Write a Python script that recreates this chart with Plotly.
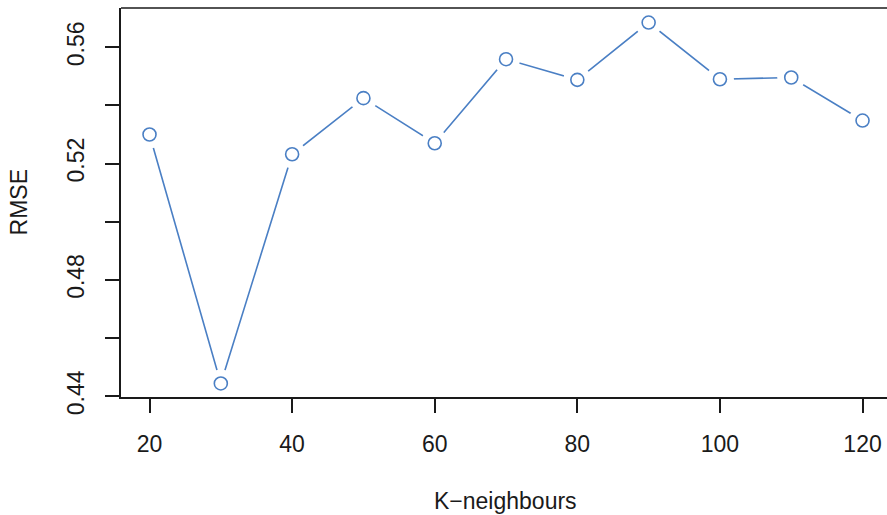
import plotly.graph_objects as go

k_neighbours = [20, 30, 40, 50, 60, 70, 80, 90, 100, 110, 120]
rmse = [0.5300, 0.4444, 0.5232, 0.5425, 0.5270, 0.5559, 0.5488, 0.5685, 0.5490, 0.5496, 0.5348]

y_tickvals = [0.44, 0.46, 0.48, 0.50, 0.52, 0.54, 0.56]
y_ticktext = ["0.44", "", "0.48", "", "0.52", "", "0.56"]
x_tickvals = [20, 40, 60, 80, 100, 120]

BLUE = "#4a7fc4"
INK = "#1a1a1a"
FONT = "Liberation Sans, Arial, sans-serif"

fig = go.Figure()
fig.add_trace(go.Scatter(x=k_neighbours, y=rmse, mode="lines",
                         line=dict(color=BLUE, width=1.6), hoverinfo="skip"))
# white masks produce R's type="b" gaps around points
fig.add_trace(go.Scatter(x=k_neighbours, y=rmse, mode="markers",
                         marker=dict(color="white", size=28, line=dict(width=0)),
                         hoverinfo="skip"))
fig.add_trace(go.Scatter(x=k_neighbours, y=rmse, mode="markers",
                         marker=dict(symbol="circle-open", color=BLUE, size=13,
                                     line=dict(width=1.6, color=BLUE)),
                         hoverinfo="skip"))

fig.update_layout(
    width=887, height=515,
    margin=dict(l=121, r=0, t=8, b=118),
    paper_bgcolor="white", plot_bgcolor="white",
    showlegend=False,
    font=dict(family=FONT, size=23, color=INK),
    xaxis=dict(range=[16, 123.43], tickvals=x_tickvals,
               showgrid=False, zeroline=False,
               showline=True, linecolor=INK, linewidth=1.5,
               ticks="outside", ticklen=14, tickwidth=1.5, tickcolor=INK,
               tickfont=dict(size=23, color=INK, family=FONT),
               ticklabelstandoff=12),
    yaxis=dict(range=[0.43974, 0.5735], tickvals=y_tickvals, ticktext=y_ticktext,
               showgrid=False, zeroline=False,
               showline=True, linecolor=INK, linewidth=1.5,
               ticks="outside", ticklen=14, tickwidth=1.5, tickcolor=INK,
               tickangle=-90,
               tickfont=dict(size=23, color=INK, family=FONT),
               ticklabelstandoff=12),
    shapes=[dict(type="line", xref="paper", yref="paper", x0=0, x1=1, y0=1, y1=1,
                 line=dict(color=INK, width=1.5))],
    annotations=[
        dict(text="K\u2212neighbours", xref="paper", yref="paper",
             x=0.5026, y=-0.2674, xanchor="center", yanchor="middle",
             showarrow=False, font=dict(size=23, color=INK, family=FONT)),
        dict(text="RMSE", xref="paper", yref="paper",
             x=-0.1332, y=0.5, xanchor="center", yanchor="middle", textangle=-90,
             showarrow=False, font=dict(size=23, color=INK, family=FONT)),
    ],
)

fig.write_html("out.html")
